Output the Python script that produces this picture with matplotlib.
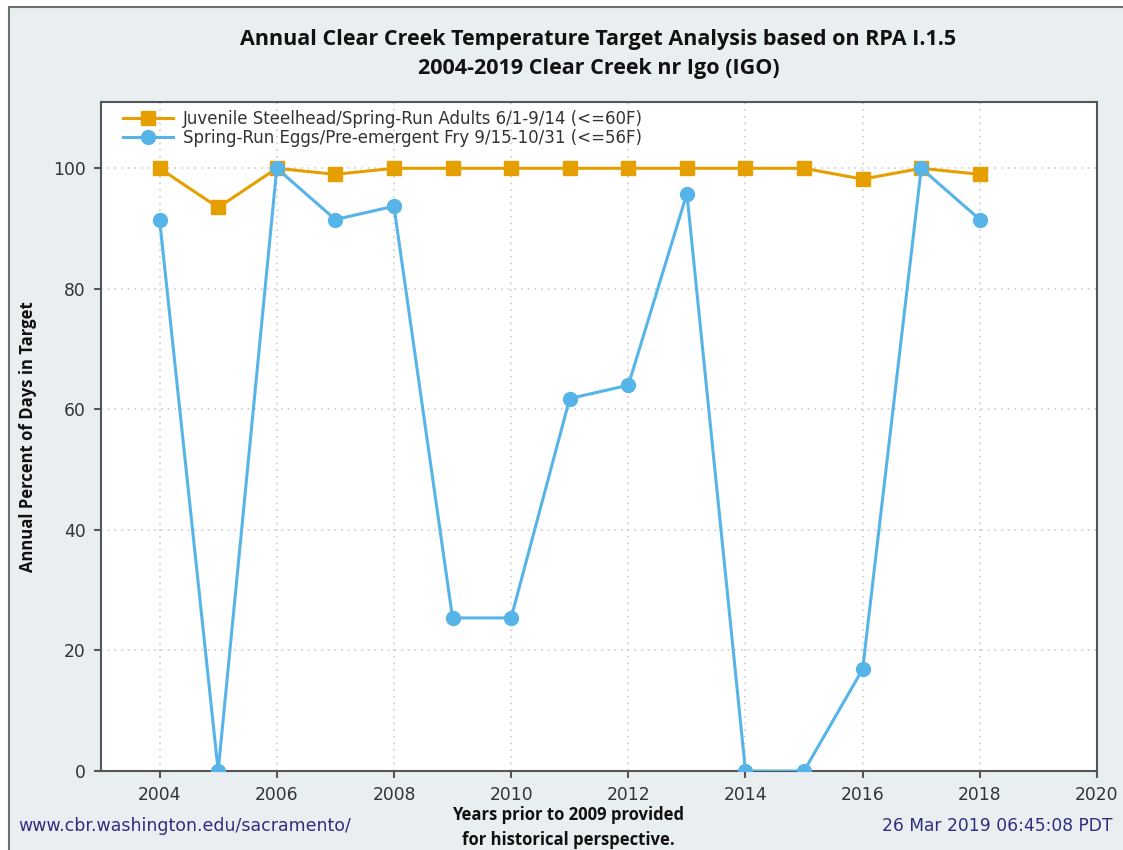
import matplotlib
matplotlib.use('Agg')
import matplotlib.pyplot as plt
from matplotlib.patches import Rectangle

# Data
years = [2004, 2005, 2006, 2007, 2008, 2009, 2010, 2011, 2012, 2013, 2014, 2015, 2016, 2017, 2018]
steelhead = [100, 93.5, 100, 99.0, 100, 100, 100, 100, 100, 100, 100, 100, 98.2, 100, 99.0]
spring_eggs = [91.5, 0, 100, 91.5, 93.7, 25.4, 25.4, 61.8, 64.0, 95.8, 0, 0, 16.9, 100, 91.5]

steelhead_label = 'Juvenile Steelhead/Spring-Run Adults 6/1-9/14 (<=60F)'
eggs_label = 'Spring-Run Eggs/Pre-emergent Fry 9/15-10/31 (<=56F)'
title = 'Annual Clear Creek Temperature Target Analysis based on RPA I.1.5\n2004-2019 Clear Creek nr Igo (IGO)'

orange = '#E69F00'
blue = '#56B4E9'
bg = '#e9eef0'

fig = plt.figure(figsize=(11.23, 8.5), dpi=100)
fig.patch.set_facecolor('white')
W, H = 1123, 850

# outer panel
fig.patches.append(Rectangle((8.5 / W, -0.02), 1.1, (850 - 6.5) / H + 0.02,
                             transform=fig.transFigure, facecolor=bg,
                             edgecolor='#707070', lw=1.5, zorder=-1))

ax = fig.add_axes([101 / W, 1 - 771 / H, (1097 - 101) / W, (771 - 102) / H])
ax.set_facecolor('white')

ax.plot(years, steelhead, color=orange, lw=2.2, marker='s', markersize=9.5,
        label=steelhead_label, zorder=3)
ax.plot(years, spring_eggs, color=blue, lw=2.2, marker='o', markersize=10,
        label=eggs_label, zorder=3)

ax.set_xlim(2003, 2020)
ax.set_ylim(0, 111)
ax.set_xticks(range(2004, 2021, 2))
ax.set_yticks(range(0, 101, 20))
ax.grid(True, linestyle=(0, (1, 3)), color='#cccccc', lw=1.2)
ax.set_axisbelow(True)

for side in ['top', 'right', 'left', 'bottom']:
    ax.spines[side].set_color('#555555')
    ax.spines[side].set_linewidth(1.5)
ax.tick_params(axis='both', direction='out', length=5, width=1.5, color='#555555',
               labelsize=12.3, labelcolor='#333333', pad=6)
ax.tick_params(axis='x', pad=6)

ax.set_ylabel('Annual Percent of Days in Target', fontsize=12, fontweight='bold',
              fontfamily='Open Sans', color='#111111')
ax.yaxis.set_label_coords(-0.064, 0.5)

leg = ax.legend(loc='upper left', bbox_to_anchor=(0.01, 1.006), frameon=False,
                fontsize=12, handlelength=3.0, handletextpad=0.6,
                labelspacing=0.1, borderaxespad=0.3)
for t in leg.get_texts():
    t.set_color('#333333')

fig.text(0.533, 1 - 54 / H, title, ha='center', va='center', fontsize=15.5,
         fontweight='bold', fontfamily='Open Sans', linespacing=1.45, color='#111111')

fig.text(18 / W, 1 - 826 / H, 'www.cbr.washington.edu/sacramento/', ha='left',
         va='center', fontsize=12.5, color='#2f2f7f')
fig.text(1113 / W, 1 - 826 / H, '26 Mar 2019 06:45:08 PDT', ha='right',
         va='center', fontsize=12.3, color='#2f2f7f')
fig.text(568 / W, 1 - 827.5 / H, 'Years prior to 2009 provided\nfor historical perspective.',
         ha='center', va='center', fontsize=12, fontweight='bold',
         fontfamily='Open Sans', linespacing=1.5, color='#111111')

fig.savefig('out.png', dpi=100, facecolor=fig.get_facecolor())
